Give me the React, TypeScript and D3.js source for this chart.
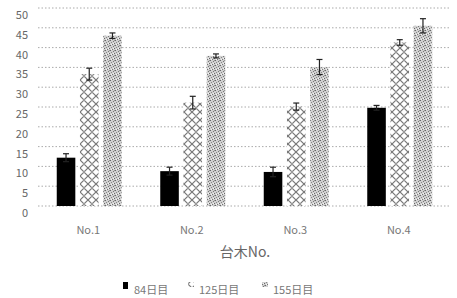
import { useMemo } from "react";
import * as d3 from "d3";

const categories = ["No.1", "No.2", "No.3", "No.4"];
const seriesNames = ["84日目", "125日目", "155日目"];
const day84 = [12.2, 8.8, 8.6, 24.8];
const day125 = [33.3, 26.1, 25.1, 41.3];
const day155 = [43.0, 37.9, 35.1, 45.5];
const err84 = [1.0, 1.0, 1.2, 0.6];
const err125 = [1.5, 1.6, 0.9, 0.7];
const err155 = [0.7, 0.5, 1.9, 1.8];
const yTicks = [0, 5, 10, 15, 20, 25, 30, 35, 40, 45, 50];

const values = [day84, day125, day155];
const errors = [err84, err125, err155];
const fills = ["#000", "url(#zig)", "url(#dots)"];

export default function App() {
    const width = 457;
    const height = 298;

    const x = d3.scaleBand().domain(categories).range([37.5, 451.5]);
    const inner = d3.scaleBand().domain(seriesNames).range([0, 65]).paddingInner(0.2);
    const y = d3.scaleLinear().domain([0, 50]).range([206, 8]);

    const bars = useMemo(() => {
        const out: { key: string; x: number; v: number; e: number; fill: string }[] = [];
        categories.forEach((c, ci) => {
            seriesNames.forEach((s, si) => {
                out.push({
                    key: c + s,
                    x: (x(c) || 0) + x.bandwidth() / 2 - 32.5 + (inner(s) || 0),
                    v: values[si][ci],
                    e: errors[si][ci],
                    fill: fills[si],
                });
            });
        });
        return out;
    }, []);

    const bw = inner.bandwidth();
    const font = "'Noto Sans CJK JP', 'Noto Sans', sans-serif";

    return (
        <svg width={width} height={height} style={{ position: "absolute", left: 0, top: 0, background: "#fff" }}>
            <defs>
                <pattern id="zig" width="8" height="8" patternUnits="userSpaceOnUse">
                    <rect width="8" height="8" fill="#fff" />
                    <path d="M0,0 L4,4 L8,0 M0,8 L4,4 L8,8" stroke="#777" strokeWidth="1.2" fill="none" />
                    <rect x="3" y="3" width="2" height="2" fill="#999" />
                </pattern>
                <pattern id="dots" width="5" height="5" patternUnits="userSpaceOnUse">
                    <rect width="5" height="5" fill="#d0d0d0" />
                    <rect x="0" y="0" width="1" height="1" fill="#666" />
                    <rect x="3" y="1" width="1" height="1" fill="#777" />
                    <rect x="1" y="2" width="1" height="1" fill="#888" />
                    <rect x="4" y="3" width="1" height="1" fill="#666" />
                    <rect x="2" y="4" width="1" height="1" fill="#777" />
                    <rect x="1" y="4" width="1" height="1" fill="#f4f4f4" />
                    <rect x="3" y="3" width="1" height="1" fill="#f4f4f4" />
                    <rect x="4" y="0" width="1" height="1" fill="#999" />
                </pattern>
            </defs>

            {yTicks.map(t => (
                <g key={t}>
                    <line x1={38} x2={451} y1={y(t)} y2={y(t)} stroke="#aaa" strokeWidth={1} strokeDasharray="1.5,2" />
                    <text x={28} y={y(t) + 11} textAnchor="end" fontSize={11} fill="#666" fontFamily={font}>
                        {t}
                    </text>
                </g>
            ))}

            {bars.map(b => (
                <g key={b.key}>
                    <rect x={b.x} y={y(b.v)} width={bw} height={y(0) - y(b.v)} fill={b.fill} />
                    <line x1={b.x + bw / 2} x2={b.x + bw / 2} y1={y(b.v + b.e)} y2={y(b.v - b.e)} stroke="#222" strokeWidth={1.2} />
                    <line x1={b.x + bw / 2 - 3} x2={b.x + bw / 2 + 3} y1={y(b.v + b.e)} y2={y(b.v + b.e)} stroke="#222" strokeWidth={1.2} />
                    <line x1={b.x + bw / 2 - 3} x2={b.x + bw / 2 + 3} y1={y(b.v - b.e)} y2={y(b.v - b.e)} stroke="#222" strokeWidth={1.2} />
                </g>
            ))}

            {categories.map(c => (
                <text key={c} x={(x(c) || 0) + x.bandwidth() / 2 - 1} y={234} textAnchor="middle" fontSize={11} fill="#777" fontFamily={font}>
                    {c}
                </text>
            ))}

            <text x={245} y={257} textAnchor="middle" fontSize={14} fill="#666" fontFamily={font}>
                台木No.
            </text>

            {seriesNames.map((s, i) => {
                const lx = [123, 188, 262][i];
                return (
                    <g key={s}>
                        <rect x={lx} y={282} width={i === 0 ? 5 : 6} height={i === 0 ? 7 : 5} fill={fills[i]} />
                        <text x={lx + 11} y={294} fontSize={11} fill="#777" fontFamily={font}>
                            {s}
                        </text>
                    </g>
                );
            })}
        </svg>
    );
}
